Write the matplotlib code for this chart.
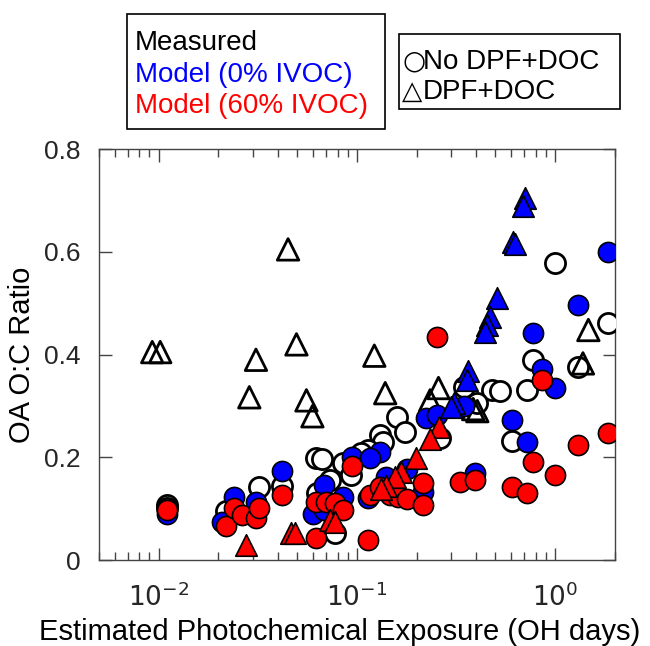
import matplotlib
matplotlib.use("Agg")
import matplotlib.pyplot as plt
from matplotlib.patches import Rectangle
from matplotlib.ticker import LogLocator, NullFormatter, FixedLocator

plt.rcParams['font.family'] = ['Liberation Sans', 'DejaVu Sans']

# Measured, No DPF+DOC (open circles)
meas_nodpf_x = [0.011, 0.011, 0.0218, 0.032, 0.042, 0.062, 0.0665, 0.0855, 0.093, 0.0735, 0.063,
                0.078, 0.16, 0.175, 0.131, 0.136, 0.114, 0.105, 0.263, 0.345, 0.48, 0.405, 0.527,
                0.607, 0.775, 0.723, 1.0, 1.85, 1.31]
meas_nodpf_y = [0.107, 0.101, 0.095, 0.143, 0.145, 0.198, 0.196, 0.189, 0.165, 0.156, 0.13,
                0.052, 0.278, 0.25, 0.243, 0.23, 0.214, 0.208, 0.237, 0.337, 0.331, 0.305, 0.33,
                0.232, 0.39, 0.331, 0.578, 0.461, 0.375]

# Measured, DPF+DOC (open triangles)
meas_dpf_x = [0.0093, 0.0102, 0.045, 0.0496, 0.031, 0.0287, 0.0557, 0.0597, 0.1225, 0.139,
              0.258, 0.234, 0.386, 0.405, 1.47, 1.38]
meas_dpf_y = [0.405, 0.405, 0.605, 0.42, 0.39, 0.317, 0.311, 0.28, 0.398, 0.325,
              0.335, 0.311, 0.294, 0.29, 0.448, 0.383]

# Model (0% IVOC), No DPF+DOC (blue circles)
m0_nodpf_x = [0.011, 0.024, 0.031, 0.042, 0.068, 0.095, 0.0855, 0.06, 0.131, 0.117, 0.222,
              0.255, 0.345, 0.14, 0.18, 0.216, 0.114, 0.395, 0.607, 0.723, 0.86, 1.0, 1.85,
              1.31, 0.775, 0.021, 0.068]
m0_nodpf_y = [0.09, 0.123, 0.113, 0.173, 0.146, 0.20, 0.123, 0.09, 0.21, 0.198, 0.276,
              0.282, 0.30, 0.162, 0.178, 0.133, 0.12, 0.17, 0.272, 0.23, 0.373, 0.335, 0.60,
              0.496, 0.442, 0.075, 0.097]

# Model (0% IVOC), DPF+DOC (blue triangles)
m0_dpf_x = [0.706, 0.69, 0.614, 0.625, 0.51, 0.47, 0.455, 0.444, 0.365, 0.36, 0.31, 0.30]
m0_dpf_y = [0.705, 0.69, 0.62, 0.615, 0.51, 0.473, 0.458, 0.445, 0.368, 0.35, 0.305, 0.298]

# Model (60% IVOC), No DPF+DOC (red circles)
m60_nodpf_x = [0.011, 0.0218, 0.024, 0.0265, 0.031, 0.032, 0.042, 0.062, 0.0695, 0.078,
               0.0855, 0.062, 0.095, 0.114, 0.117, 0.131, 0.1475, 0.162, 0.18, 0.216, 0.216,
               0.332, 0.395, 0.607, 0.723, 0.775, 1.0, 1.31, 1.85, 0.86, 0.255]
m60_nodpf_y = [0.097, 0.066, 0.101, 0.088, 0.082, 0.101, 0.127, 0.113, 0.113, 0.111,
               0.098, 0.043, 0.183, 0.039, 0.127, 0.142, 0.127, 0.123, 0.118, 0.15, 0.107,
               0.152, 0.155, 0.142, 0.13, 0.191, 0.165, 0.224, 0.247, 0.35, 0.434]

# Model (60% IVOC), DPF+DOC (red triangles)
m60_dpf_x = [0.0275, 0.0465, 0.049, 0.073, 0.078, 0.26, 0.234, 0.198, 0.166, 0.155, 0.14, 0.133]
m60_dpf_y = [0.03, 0.052, 0.052, 0.078, 0.074, 0.26, 0.236, 0.198, 0.172, 0.162, 0.145, 0.138]

x_ticks = [0.01, 0.1, 1]
x_ticklabels = [r'$10^{-2}$', r'$10^{-1}$', r'$10^{0}$']
y_ticks = [0, 0.2, 0.4, 0.6, 0.8]
y_ticklabels = ['0', '0.2', '0.4', '0.6', '0.8']

fig = plt.figure(figsize=(6.5, 6.46), dpi=100)
ax = fig.add_axes([0.152, 0.133, 0.794, 0.636])

s_circ = 210
s_tri = 240
ax.scatter(meas_nodpf_x, meas_nodpf_y, s=s_circ, marker='o', facecolors='white', edgecolors='black', linewidths=2.0, zorder=3)
ax.scatter(meas_dpf_x, meas_dpf_y, s=s_tri, marker='^', facecolors='none', edgecolors='black', linewidths=2.0, zorder=3)
ax.scatter(m0_nodpf_x, m0_nodpf_y, s=s_circ, marker='o', facecolors='#0000ff', edgecolors='black', linewidths=1.2, zorder=4)
ax.scatter(m0_dpf_x, m0_dpf_y, s=s_tri, marker='^', facecolors='#0000ff', edgecolors='black', linewidths=1.2, zorder=4)
ax.scatter(m60_nodpf_x, m60_nodpf_y, s=s_circ, marker='o', facecolors='#ff0000', edgecolors='black', linewidths=1.2, zorder=5)
ax.scatter(m60_dpf_x, m60_dpf_y, s=s_tri, marker='^', facecolors='#ff0000', edgecolors='black', linewidths=1.2, zorder=5)

ax.set_xscale('log')
ax.set_xlim(0.005, 2.0)
ax.set_ylim(0, 0.8)
ax.xaxis.set_major_locator(FixedLocator(x_ticks))
ax.set_xticklabels(x_ticklabels)
ax.xaxis.set_minor_locator(LogLocator(base=10, subs=range(2, 10)))
ax.xaxis.set_minor_formatter(NullFormatter())
ax.set_yticks(y_ticks)
ax.set_yticklabels(y_ticklabels)

for sp in ax.spines.values():
    sp.set_color('#444444')
    sp.set_linewidth(1.0)
ax.tick_params(which='both', direction='in', top=True, right=True, colors='#444444', labelcolor='#262626', labelsize=19)
ax.tick_params(which='major', length=9, width=1.0)
ax.tick_params(which='minor', length=5.5, width=1.0)
ax.tick_params(axis='x', pad=16)
ax.tick_params(axis='y', pad=13)

ax.set_xlabel('Estimated Photochemical Exposure (OH days)', fontsize=21, color='black')
ax.xaxis.set_label_coords(0.467, -0.142)
ax.set_ylabel('OA O:C Ratio', fontsize=21, color='black', labelpad=6)

W, H = 650.0, 646.0
def fx(px): return px / W
def fy(py): return 1 - py / H

fig.patches.append(Rectangle((fx(127), fy(129)), fx(385) - fx(127), fy(14) - fy(129),
                             transform=fig.transFigure, fill=False, edgecolor='black', linewidth=1.2))
fig.text(fx(135), fy(43), 'Measured', color='black', fontsize=20, va='center', ha='left')
fig.text(fx(135), fy(75), 'Model (0% IVOC)', color='#0000ff', fontsize=20, va='center', ha='left')
fig.text(fx(135), fy(106), 'Model (60% IVOC)', color='#ff0000', fontsize=20, va='center', ha='left')

fig.patches.append(Rectangle((fx(399), fy(109)), fx(620) - fx(399), fy(34) - fy(109),
                             transform=fig.transFigure, fill=False, edgecolor='black', linewidth=1.2))
fig.text(fx(402), fy(62), '\u25cb', color='black', fontsize=19, va='center', ha='left', family=['DejaVu Sans'])
fig.text(fx(423), fy(62), 'No DPF+DOC', color='black', fontsize=20, va='center', ha='left')
fig.text(fx(402), fy(92), '\u25b3', color='black', fontsize=19, va='center', ha='left', family=['DejaVu Sans'])
fig.text(fx(423), fy(92), 'DPF+DOC', color='black', fontsize=20, va='center', ha='left')

fig.savefig('out.png', dpi=100)
